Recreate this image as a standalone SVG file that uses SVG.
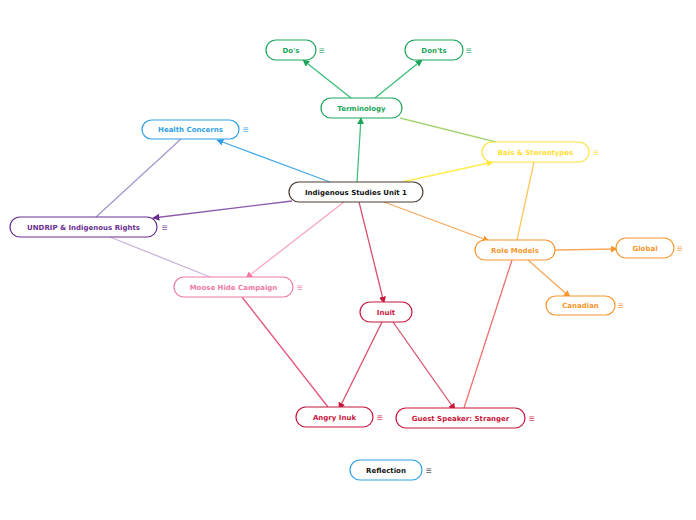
<svg xmlns="http://www.w3.org/2000/svg" width="696" height="520" viewBox="0 0 696 520">
<style>
.n rect{fill:#fff;stroke-width:1.2}
.n text{font-family:"DejaVu Sans",Verdana,sans-serif;font-weight:bold;font-size:7px;text-anchor:middle;dominant-baseline:central}
.n text.m{font-family:"Liberation Sans",Arial,sans-serif;font-weight:normal;font-size:10px;text-anchor:start;opacity:0.8}
#conn line{stroke-width:1.3;fill:none}
</style>
<defs>
<marker id="ag" viewBox="0 0 10 10" refX="9" refY="5" markerWidth="7" markerHeight="7" markerUnits="userSpaceOnUse" orient="auto"><path d="M0,0L10,5L0,10z" fill="#1aa55b"/></marker>
<marker id="ab" viewBox="0 0 10 10" refX="9" refY="5" markerWidth="7" markerHeight="7" markerUnits="userSpaceOnUse" orient="auto"><path d="M0,0L10,5L0,10z" fill="#2e9fe6"/></marker>
<marker id="ay" viewBox="0 0 10 10" refX="9" refY="5" markerWidth="7" markerHeight="7" markerUnits="userSpaceOnUse" orient="auto"><path d="M0,0L10,5L0,10z" fill="#ffe83a"/></marker>
<marker id="ap" viewBox="0 0 10 10" refX="9" refY="5" markerWidth="7" markerHeight="7" markerUnits="userSpaceOnUse" orient="auto"><path d="M0,0L10,5L0,10z" fill="#6a2f92"/></marker>
<marker id="ak" viewBox="0 0 10 10" refX="9" refY="5" markerWidth="7" markerHeight="7" markerUnits="userSpaceOnUse" orient="auto"><path d="M0,0L10,5L0,10z" fill="#f07aa5"/></marker>
<marker id="ar" viewBox="0 0 10 10" refX="9" refY="5" markerWidth="7" markerHeight="7" markerUnits="userSpaceOnUse" orient="auto"><path d="M0,0L10,5L0,10z" fill="#c8163c"/></marker>
<marker id="ao" viewBox="0 0 10 10" refX="9" refY="5" markerWidth="7" markerHeight="7" markerUnits="userSpaceOnUse" orient="auto"><path d="M0,0L10,5L0,10z" fill="#f7962f"/></marker>
</defs>
<rect width="696" height="520" fill="#fff"/>
<g id="conn">
<line x1="400" y1="118" x2="496" y2="142" stroke="#a6d67a"/>
<line x1="181" y1="139" x2="96" y2="217" stroke="#a596cc"/>
<line x1="110" y1="237" x2="210" y2="277" stroke="#c9b3d9"/>
<line x1="534" y1="162" x2="517" y2="240" stroke="#fdc75a"/>
<line x1="242" y1="297" x2="328" y2="407" stroke="#e8557a"/>
<line x1="512" y1="260" x2="464" y2="408" stroke="#f07070"/>
<line x1="357" y1="182" x2="361" y2="118" stroke="#3cbf7a" marker-end="url(#ag)"/>
<line x1="351" y1="98" x2="303" y2="60" stroke="#3cbf7a" marker-end="url(#ag)"/>
<line x1="375" y1="98" x2="422" y2="60" stroke="#3cbf7a" marker-end="url(#ag)"/>
<line x1="330" y1="182" x2="217" y2="140" stroke="#4aaee8" marker-end="url(#ab)"/>
<line x1="402" y1="182" x2="493" y2="162" stroke="#ffec4a" marker-end="url(#ay)"/>
<line x1="292" y1="201" x2="153" y2="218" stroke="#8a5aa8" marker-end="url(#ap)"/>
<line x1="344" y1="202" x2="246" y2="278" stroke="#f4a6c0" marker-end="url(#ak)"/>
<line x1="359" y1="202" x2="384" y2="303" stroke="#d9506a" marker-end="url(#ar)"/>
<line x1="384" y1="202" x2="489" y2="241" stroke="#f8a85a" marker-end="url(#ao)"/>
<line x1="555" y1="250" x2="617" y2="249" stroke="#f8a85a" marker-end="url(#ao)"/>
<line x1="528" y1="260" x2="570" y2="297" stroke="#f8a85a" marker-end="url(#ao)"/>
<line x1="382" y1="322" x2="339" y2="409" stroke="#d9506a" marker-end="url(#ar)"/>
<line x1="393" y1="322" x2="455" y2="410" stroke="#d9506a" marker-end="url(#ar)"/>
</g>
<g id="central" class="n"><rect x="289" y="182" width="134" height="20" rx="10" stroke="#4a3b30"/><text x="356" y="192.5" fill="#111">Indigenous Studies Unit 1</text></g>
<g id="terminology" class="n"><rect x="321" y="98" width="81" height="20" rx="10" stroke="#1aa55b"/><text x="361.5" y="108.5" fill="#1aa55b">Terminology</text></g>
<g id="dos" class="n"><rect x="266" y="40" width="50" height="20" rx="10" stroke="#1aa55b"/><text x="291" y="50.5" fill="#1aa55b">Do's</text><text class="m" x="319" y="50" fill="#1aa55b">≡</text></g>
<g id="donts" class="n"><rect x="405" y="40" width="58" height="20" rx="10" stroke="#1aa55b"/><text x="434" y="50.5" fill="#1aa55b">Don'ts</text><text class="m" x="466" y="50" fill="#1aa55b">≡</text></g>
<g id="health" class="n"><rect x="142" y="120" width="97" height="19" rx="9.5" stroke="#2e9fe6"/><text x="190.5" y="130" fill="#2e9fe6">Health Concerns</text><text class="m" x="243" y="129.5" fill="#2e9fe6">≡</text></g>
<g id="bais" class="n"><rect x="482" y="142" width="107" height="20" rx="10" stroke="#ffe33a"/><text x="535.5" y="152.5" fill="#ffe033">Bais &amp; Stereotypes</text><text class="m" x="593" y="152" fill="#ffe033">≡</text></g>
<g id="undrip" class="n"><rect x="10" y="217" width="147" height="20" rx="10" stroke="#6a2f92"/><text x="83.5" y="227.5" fill="#6a2f92">UNDRIP &amp; Indigenous Rights</text><text class="m" x="162" y="227" fill="#6a2f92">≡</text></g>
<g id="moose" class="n"><rect x="174" y="277" width="119" height="20" rx="10" stroke="#f07aa5"/><text x="233.5" y="287.5" fill="#f07aa5">Moose Hide Campaign</text><text class="m" x="297" y="287" fill="#f07aa5">≡</text></g>
<g id="role" class="n"><rect x="475" y="240" width="80" height="20" rx="10" stroke="#f7962f"/><text x="515" y="250.5" fill="#f7962f">Role Models</text></g>
<g id="global" class="n"><rect x="616" y="238" width="58" height="20" rx="10" stroke="#f7962f"/><text x="645" y="248.5" fill="#f7962f">Global</text><text class="m" x="677" y="248" fill="#f7962f">≡</text></g>
<g id="canadian" class="n"><rect x="546" y="296" width="69" height="19" rx="9.5" stroke="#f7962f"/><text x="580.5" y="306" fill="#f7962f">Canadian</text><text class="m" x="618" y="305.5" fill="#f7962f">≡</text></g>
<g id="inuit" class="n"><rect x="360" y="302" width="52" height="20" rx="10" stroke="#c8163c"/><text x="386" y="312.5" fill="#c8163c">Inuit</text></g>
<g id="angry" class="n"><rect x="296" y="407" width="77" height="20" rx="10" stroke="#c8163c"/><text x="334.5" y="417.5" fill="#c8163c">Angry Inuk</text><text class="m" x="377" y="417" fill="#c8163c">≡</text></g>
<g id="guest" class="n"><rect x="396" y="408" width="129" height="20" rx="10" stroke="#c8163c"/><text x="460.5" y="418.5" fill="#c8163c">Guest Speaker: Stranger</text><text class="m" x="529" y="418" fill="#c8163c">≡</text></g>
<g id="reflection" class="n"><rect x="350" y="460" width="72" height="20" rx="10" stroke="#2e9fe6"/><text x="386" y="470.5" fill="#111">Reflection</text><text class="m" x="426" y="470" fill="#333">≡</text></g>
</svg>
